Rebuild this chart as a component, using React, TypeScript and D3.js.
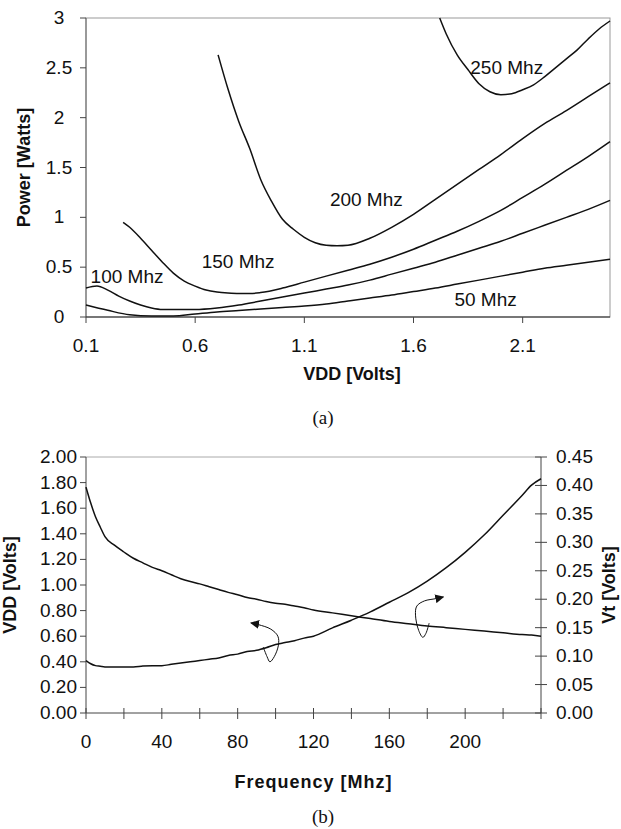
import React from 'react';
import * as d3 from 'd3';

// (a) Power vs VDD, one curve per clock frequency
const vdd50 = [0.1, 0.2, 0.3, 0.4, 0.5, 0.6, 0.7, 0.8, 0.9, 1.0, 1.1, 1.2, 1.3, 1.4, 1.5, 1.6, 1.7, 1.8, 1.9, 2.0, 2.1, 2.2, 2.3, 2.4, 2.5];
const power50 = [0.12, 0.067, 0.022, 0.01, 0.01, 0.03, 0.05, 0.065, 0.08, 0.095, 0.11, 0.13, 0.16, 0.19, 0.22, 0.255, 0.29, 0.33, 0.37, 0.41, 0.45, 0.49, 0.52, 0.55, 0.58];

const vdd100 = [0.1, 0.15, 0.2, 0.25, 0.3, 0.35, 0.4, 0.45, 0.5, 0.6, 0.7, 0.8, 0.9, 1.0, 1.1, 1.2, 1.3, 1.4, 1.5, 1.6, 1.7, 1.8, 1.9, 2.0, 2.1, 2.2, 2.3, 2.4, 2.5];
const power100 = [0.29, 0.31, 0.27, 0.21, 0.16, 0.12, 0.09, 0.075, 0.075, 0.075, 0.09, 0.12, 0.16, 0.2, 0.24, 0.28, 0.32, 0.37, 0.43, 0.49, 0.55, 0.62, 0.69, 0.76, 0.84, 0.92, 1.0, 1.08, 1.17];

const vdd150 = [0.27, 0.3, 0.35, 0.4, 0.45, 0.5, 0.55, 0.6, 0.65, 0.7, 0.75, 0.8, 0.85, 0.9, 1.0, 1.1, 1.2, 1.3, 1.4, 1.5, 1.6, 1.7, 1.8, 1.9, 2.0, 2.1, 2.2, 2.3, 2.4, 2.5];
const power150 = [0.95, 0.9, 0.79, 0.67, 0.55, 0.44, 0.36, 0.31, 0.27, 0.25, 0.24, 0.235, 0.235, 0.245, 0.29, 0.35, 0.41, 0.47, 0.53, 0.6, 0.68, 0.77, 0.86, 0.96, 1.07, 1.2, 1.33, 1.47, 1.61, 1.76];

const vdd200 = [0.705, 0.75, 0.8, 0.85, 0.9, 0.95, 1.0, 1.05, 1.1, 1.15, 1.2, 1.25, 1.3, 1.4, 1.5, 1.6, 1.7, 1.8, 1.9, 2.0, 2.1, 2.2, 2.3, 2.4, 2.5];
const power200 = [2.63, 2.29, 1.96, 1.69, 1.38, 1.16, 0.98, 0.88, 0.8, 0.745, 0.72, 0.715, 0.72, 0.79, 0.9, 1.03, 1.18, 1.33, 1.48, 1.63, 1.79, 1.94, 2.07, 2.21, 2.35];

const vdd250 = [1.72, 1.75, 1.8, 1.85, 1.9, 1.95, 2.0, 2.05, 2.1, 2.15, 2.2, 2.25, 2.3, 2.35, 2.4, 2.45, 2.5];
const power250 = [3.0, 2.84, 2.63, 2.48, 2.34, 2.26, 2.23, 2.24, 2.28, 2.33, 2.41, 2.5, 2.59, 2.68, 2.79, 2.89, 2.97];

const curveLabels = [
  { text: '250 Mhz', v: 2.027, p: 2.44 },
  { text: '200 Mhz', v: 1.384, p: 1.113 },
  { text: '150 Mhz', v: 0.797, p: 0.49 },
  { text: '100 Mhz', v: 0.288, p: 0.34 },
  { text: '50 Mhz', v: 1.93, p: 0.11 },
];

const vddTicks = [0.1, 0.6, 1.1, 1.6, 2.1];
const powerTicks = [0, 0.5, 1, 1.5, 2, 2.5, 3];

// (b) VDD and Vt vs frequency
const freq = [0, 2.5, 5, 7.5, 10, 15, 20, 25, 30, 35, 40, 45, 50, 55, 60, 65, 70, 75, 80, 85, 90, 95, 100, 105, 110, 115, 120, 130, 140, 150, 160, 170, 180, 190, 200, 210, 220, 230, 235, 240];
const vddByFreq = [0.41, 0.385, 0.37, 0.365, 0.36, 0.36, 0.36, 0.36, 0.367, 0.37, 0.37, 0.38, 0.39, 0.4, 0.41, 0.42, 0.43, 0.45, 0.46, 0.48, 0.49, 0.51, 0.535, 0.55, 0.565, 0.585, 0.6, 0.665, 0.725, 0.79, 0.865, 0.94, 1.03, 1.135, 1.255, 1.39, 1.545, 1.7, 1.78, 1.83];
const vtByFreq = [0.397, 0.369, 0.345, 0.327, 0.31, 0.295, 0.283, 0.272, 0.264, 0.256, 0.25, 0.243, 0.236, 0.231, 0.227, 0.222, 0.217, 0.212, 0.208, 0.203, 0.2, 0.196, 0.193, 0.191, 0.188, 0.185, 0.181, 0.176, 0.171, 0.166, 0.161, 0.157, 0.153, 0.15, 0.147, 0.144, 0.141, 0.138, 0.137, 0.135];

const freqTicks = [0, 20, 40, 60, 80, 100, 120, 140, 160, 180, 200, 220, 240];
const freqLabels = [0, 40, 80, 120, 160, 200];
const vddLeftTicks = [0, 0.2, 0.4, 0.6, 0.8, 1.0, 1.2, 1.4, 1.6, 1.8, 2.0];
const vtRightTicks = [0, 0.05, 0.1, 0.15, 0.2, 0.25, 0.3, 0.35, 0.4, 0.45];

// hand drawn arrows (data coords)
const arrowVddF = [93.5, 95.5, 97.0, 99.3, 101.5, 101.2, 97.5, 91.0, 87.0];
const arrowVddV = [0.515, 0.44, 0.4, 0.44, 0.53, 0.6, 0.655, 0.69, 0.703];
const arrowVtF = [181.0, 179.3, 177.7, 175.5, 173.8, 174.5, 178.5, 184.5, 188.5];
const arrowVtV = [0.158, 0.14, 0.133, 0.145, 0.172, 0.188, 0.197, 0.201, 0.204];

const FONT = '"Liberation Sans", Arial, sans-serif';
const FS = 19;
const TFS = 18;

const TopChart = () => {
  const x = d3.scaleLinear().domain([0.1, 2.5]).range([86, 610]);
  const y = d3.scaleLinear().domain([0, 3]).range([317, 18]);
  const line = d3.line<[number, number]>()
    .x(d => x(d[0]))
    .y(d => y(d[1]))
    .curve(d3.curveMonotoneX);
  const series = [
    [vdd50, power50],
    [vdd100, power100],
    [vdd150, power150],
    [vdd200, power200],
    [vdd250, power250],
  ];
  const [x0, x1] = x.range();
  const [y0, y1] = y.range();
  return (
    <g>
      <rect x={x0} y={y1} width={x1 - x0} height={y0 - y1} fill="none" stroke="#999" strokeWidth={1} />
      <line x1={x0} x2={x0} y1={y0} y2={y1} stroke="#666" />
      <line x1={x0} x2={x1} y1={y0} y2={y0} stroke="#222" />
      {series.map(([xs, ys], i) => (
        <path key={i} d={line(d3.zip(xs, ys) as [number, number][]) || ''} fill="none" stroke="#111" strokeWidth={1.5} />
      ))}
      {powerTicks.map(t => (
        <g key={t}>
          <line x1={x0 - 6} x2={x0} y1={y(t)} y2={y(t)} stroke="#444" />
          <text x={59} y={y(t) + 6} textAnchor="middle" fontSize={FS}>{t}</text>
        </g>
      ))}
      {vddTicks.map(t => (
        <g key={t}>
          <line x1={x(t)} x2={x(t)} y1={y0} y2={y0 + 6} stroke="#444" />
          <text x={x(t)} y={352} textAnchor="middle" fontSize={FS}>{t}</text>
        </g>
      ))}
      {curveLabels.map(l => (
        <text key={l.text} x={x(l.v)} y={y(l.p)} textAnchor="middle" fontSize={FS}>{l.text}</text>
      ))}
      <text transform={`translate(30,${(y0 + y1) / 2}) rotate(-90)`} textAnchor="middle" fontSize={TFS} fontWeight="bold">Power [Watts]</text>
      <text x={(x0 + x1) / 2 + 4} y={380} textAnchor="middle" fontSize={TFS} fontWeight="bold">VDD [Volts]</text>
    </g>
  );
};

const BottomChart = () => {
  const x = d3.scaleLinear().domain([0, 240]).range([86, 541]);
  const yL = d3.scaleLinear().domain([0, 2]).range([713, 457]);
  const yR = d3.scaleLinear().domain([0, 0.45]).range([713, 457]);
  const lineL = d3.line<[number, number]>().x(d => x(d[0])).y(d => yL(d[1])).curve(d3.curveMonotoneX);
  const lineR = d3.line<[number, number]>().x(d => x(d[0])).y(d => yR(d[1])).curve(d3.curveMonotoneX);
  const arrowL = d3.line<[number, number]>().x(d => x(d[0])).y(d => yL(d[1])).curve(d3.curveCatmullRom);
  const arrowR = d3.line<[number, number]>().x(d => x(d[0])).y(d => yR(d[1])).curve(d3.curveCatmullRom);
  const [x0, x1] = x.range();
  const [y0, y1] = yL.range();
  return (
    <g>
      <defs>
        <marker id="ah" viewBox="0 0 10 10" refX={9} refY={5} markerWidth={9} markerHeight={9} markerUnits="userSpaceOnUse" orient="auto">
          <path d="M0,0 L10,5 L0,10 z" fill="#111" />
        </marker>
      </defs>
      <line x1={x0} x2={x1} y1={y1} y2={y1} stroke="#aaa" />
      <line x1={x0} x2={x0} y1={y0} y2={y1} stroke="#444" />
      <line x1={x1} x2={x1} y1={y0} y2={y1} stroke="#444" />
      <line x1={x0} x2={x1} y1={y0} y2={y0} stroke="#444" />
      <path d={lineL(d3.zip(freq, vddByFreq) as [number, number][]) || ''} fill="none" stroke="#111" strokeWidth={1.5} />
      <path d={lineR(d3.zip(freq, vtByFreq) as [number, number][]) || ''} fill="none" stroke="#111" strokeWidth={1.5} />
      <path d={arrowL(d3.zip(arrowVddF, arrowVddV) as [number, number][]) || ''} fill="none" stroke="#111" strokeWidth={1} markerEnd="url(#ah)" />
      <path d={arrowR(d3.zip(arrowVtF, arrowVtV) as [number, number][]) || ''} fill="none" stroke="#111" strokeWidth={1} markerEnd="url(#ah)" />
      {vddLeftTicks.map(t => (
        <g key={t}>
          <line x1={x0 - 6} x2={x0} y1={yL(t)} y2={yL(t)} stroke="#444" />
          <text x={77} y={yL(t) + 6} textAnchor="end" fontSize={FS}>{t.toFixed(2)}</text>
        </g>
      ))}
      {vtRightTicks.map(t => (
        <g key={t}>
          <line x1={x1 - 6} x2={x1 + 6} y1={yR(t)} y2={yR(t)} stroke="#444" />
          <text x={556} y={yR(t) + 6} textAnchor="start" fontSize={FS}>{t.toFixed(2)}</text>
        </g>
      ))}
      {freqTicks.map(t => (
        <line key={t} x1={x(t)} x2={x(t)} y1={y0 - 5} y2={y0 + 6} stroke="#444" />
      ))}
      {freqLabels.map(t => (
        <text key={t} x={x(t)} y={748} textAnchor="middle" fontSize={FS}>{t}</text>
      ))}
      <text transform={`translate(16,${(y0 + y1) / 2}) rotate(-90)`} textAnchor="middle" fontSize={TFS} fontWeight="bold">VDD [Volts]</text>
      <text transform={`translate(615,${(y0 + y1) / 2}) rotate(-90)`} textAnchor="middle" fontSize={TFS} fontWeight="bold">Vt [Volts]</text>
      <text x={(x0 + x1) / 2} y={788} textAnchor="middle" fontSize={TFS} fontWeight="bold" letterSpacing={1}>Frequency [Mhz]</text>
    </g>
  );
};

const App = () => (
  <svg width={621} height={829} style={{ position: 'absolute', left: 0, top: 0, background: '#fff' }} fontFamily={FONT} fill="#111">
    <rect width={621} height={829} fill="#fff" />
    <TopChart />
    <text x={323} y={424} textAnchor="middle" fontSize={19} fontFamily='"Liberation Serif", "Times New Roman", serif'>(a)</text>
    <BottomChart />
    <text x={323} y={823} textAnchor="middle" fontSize={19} fontFamily='"Liberation Serif", "Times New Roman", serif'>(b)</text>
  </svg>
);

export default App;
